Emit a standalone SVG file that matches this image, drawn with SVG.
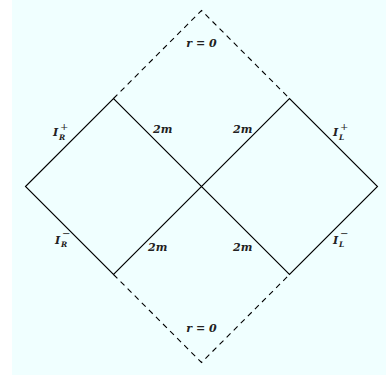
<svg xmlns="http://www.w3.org/2000/svg" width="386" height="379" viewBox="0 0 386 379">
<style>
.bg{fill:#f0ffff}
.solid{fill:none;stroke:#000;stroke-width:1.1}
.dash{fill:none;stroke:#000;stroke-width:1.1;stroke-dasharray:5.5 4.5}
.lbl{font-family:"DejaVu Serif","Liberation Serif",serif;font-style:italic;font-weight:bold;font-size:11px;fill:#222}
.sub{font-family:"DejaVu Serif","Liberation Serif",serif;font-style:italic;font-weight:bold;font-size:7.5px;fill:#222}
.sup{font-family:"DejaVu Serif","Liberation Serif",serif;font-weight:normal;font-size:10px;fill:#222}
</style>
<rect class="bg" x="12" y="0" width="374" height="375"/>
<g id="connectors">
<path class="solid" d="M25.5,186.5 L113.5,98.5 L289.5,274.5 L377.5,186.5 L289.5,98.5 L113.5,274.5 Z"/>
<path class="dash" d="M113.5,98.5 L201.5,10.5 L289.5,98.5"/>
<path class="dash" d="M113.5,274.5 L201.5,362.5 L289.5,274.5"/>
</g>
<g id="label-r0-top"><text class="lbl" x="201.5" y="47" text-anchor="middle">r = 0</text></g>
<g id="label-r0-bottom"><text class="lbl" x="201.5" y="332" text-anchor="middle">r = 0</text></g>
<g id="label-IRplus"><text class="lbl" x="53" y="136">I</text><text class="sup" x="60" y="130">+</text><text class="sub" x="59" y="140">R</text></g>
<g id="label-IRminus"><text class="lbl" x="55" y="244">I</text><text class="sup" x="62" y="237">−</text><text class="sub" x="61" y="247">R</text></g>
<g id="label-ILplus"><text class="lbl" x="333" y="136">I</text><text class="sup" x="340" y="130">+</text><text class="sub" x="339" y="140">L</text></g>
<g id="label-ILminus"><text class="lbl" x="333" y="244">I</text><text class="sup" x="340" y="237">−</text><text class="sub" x="339" y="247">L</text></g>
<g id="label-2m-ul"><text class="lbl" x="153" y="133">2m</text></g>
<g id="label-2m-ur"><text class="lbl" x="233" y="133">2m</text></g>
<g id="label-2m-ll"><text class="lbl" x="148" y="251">2m</text></g>
<g id="label-2m-lr"><text class="lbl" x="233" y="251">2m</text></g>
</svg>
